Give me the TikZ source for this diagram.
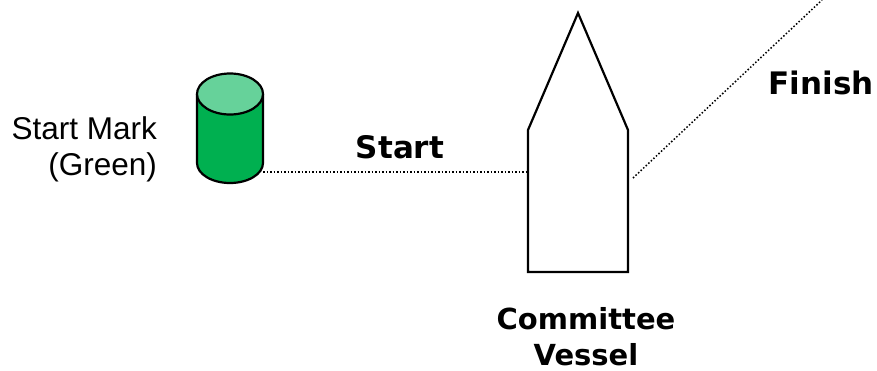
\documentclass[tikz,border=0pt]{standalone}
\usepackage{fontspec}
\setmainfont{DejaVu Sans}
\newfontfamily\markfont{Liberation Sans}
\definecolor{markbody}{HTML}{00B050}
\definecolor{marktop}{HTML}{66D29A}
\tikzset{
  outline/.style = {draw, line width = 2.2pt, line join = miter},
  lineline/.style = {draw, line width = 1.5pt, dash pattern = on 1.5pt off 2pt},
  heading/.style = {font = \bfseries\fontsize{31}{36}\selectfont, align = center, inner sep = 0pt},
  caption/.style = {font = \markfont\fontsize{31.5}{36}\selectfont, align = right, inner sep = 0pt}
}
\begin{document}
\begin{tikzpicture}[x = 1pt, y = -1pt]
    \useasboundingbox (0,0) rectangle (877,370);
    % start mark
    \draw [outline, fill = markbody] (197,94)--(197,163) arc [start angle = 180, end angle = 0, x radius = 33, y radius = 20]--(263,94);
    \draw [outline, fill = marktop] (230,94) ellipse [x radius = 33, y radius = 20.5];
    \node (marklabel) at (157,149.5) [caption, anchor = east] {Start Mark\\(Green)};
    % committee boat
    \coordinate (sl) at (528,130);
    \coordinate (sr) at (628,130);
    \coordinate (bow) at (578,13);
    \coordinate (bl) at (528,272);
    \coordinate (br) at (628,272);
    \draw [outline] (sl)--(bow)--(sr)--(br)--(bl)--cycle;
    \coordinate (markend) at (263,172);
    \coordinate (boatport) at (528,172);
    \coordinate (boatstar) at (633,178);
    \coordinate (finishend) at (822,0);
    \draw [lineline] (markend)--(boatport);
    \draw [lineline] (boatstar)--(finishend);
    \node (start) at (400,147) [heading] {Start};
    \node (finish) at (821,83) [heading] {Finish};
    \node (vessel) at (586,337) [heading, font = \bfseries\fontsize{29}{36}\selectfont] {Committee\\Vessel};
  \end{tikzpicture}
\end{document}
